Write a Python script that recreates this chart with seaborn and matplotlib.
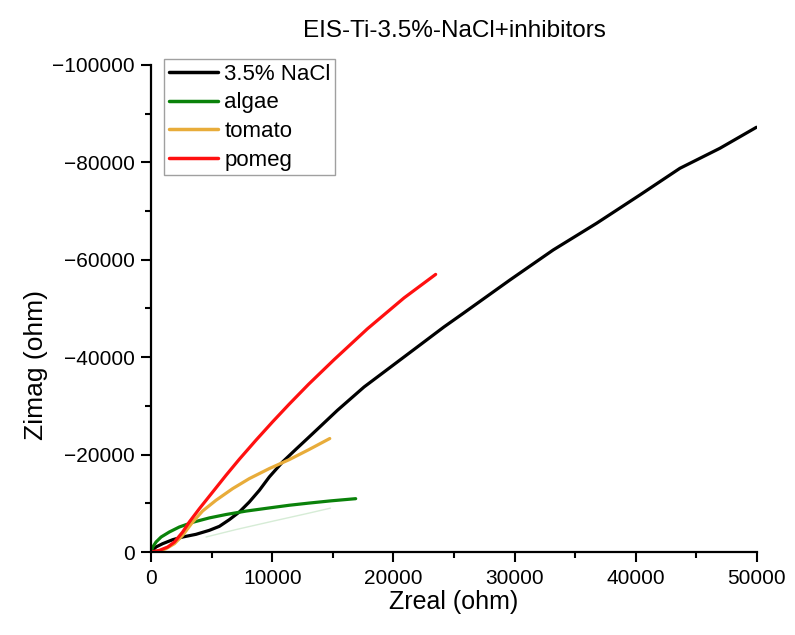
import seaborn as sns
import pandas as pd
import matplotlib.pyplot as plt
from matplotlib.ticker import MultipleLocator

# Nyquist data (Zreal, Zimag in ohm)
nacl_x = [0, 410, 960, 1790, 2610, 3710, 4810, 5640, 6460, 7290, 8110, 8940, 9760, 10860,
          11960, 12930, 14000, 15380, 17580, 19780, 21980, 24170, 25770, 29620, 33190,
          36770, 40350, 43650, 46950, 49970]
nacl_y = [0, -1030, -1710, -2530, -3080, -3630, -4450, -5270, -6640, -8220, -10270, -12670,
          -15410, -18500, -21100, -23350, -25850, -29090, -33880, -37990, -42100, -46200,
          -49010, -55850, -62010, -67490, -73310, -78780, -82890, -87210]

algae_x = [0, 140, 410, 830, 1510, 2340, 3440, 4810, 6190, 7840, 9760, 11410, 13060,
           14830, 16890]
algae_y = [0, -1030, -2050, -3080, -4110, -5140, -6100, -7000, -7700, -8400, -9050, -9600,
           -10050, -10500, -10950]

algae_faint_x = [4540, 7000, 10000, 13060, 14800]
algae_faint_y = [-3080, -4600, -6300, -8000, -9000]

tomato_x = [0, 690, 1240, 1930, 2610, 3440, 4260, 5360, 6740, 8110, 9760, 11410, 13010, 14750]
tomato_y = [0, -200, -690, -1710, -3430, -6170, -8430, -10620, -13020, -15070, -17130,
            -18970, -21000, -23300]

pomeg_x = [0, 690, 1380, 1930, 2610, 3160, 3990, 5090, 6190, 7290, 8660, 10040, 11410,
           13010, 15110, 17860, 20880, 23490]
pomeg_y = [0, -340, -1030, -2050, -4110, -6170, -8900, -12330, -15760, -19060, -22960,
           -26750, -30380, -34460, -39500, -45830, -52170, -57000]

series = {
    '3.5% NaCl': (nacl_x, nacl_y, 'black'),
    'algae': (algae_x, algae_y, '#0a820a'),
    'tomato': (tomato_x, tomato_y, '#e8ac3a'),
    'pomeg': (pomeg_x, pomeg_y, '#ff1010'),
}

sns.set_style("ticks", {'text.color': 'black', 'axes.labelcolor': 'black',
                        'xtick.color': 'black', 'ytick.color': 'black',
                        'axes.edgecolor': 'black'})
plt.rcParams['font.family'] = ['Liberation Sans', 'DejaVu Sans']

fig = plt.figure(figsize=(7.95, 6.35), dpi=100)
ax = fig.add_axes([0.19, 0.1307, 0.762, 0.767])

sns.lineplot(x=algae_faint_x, y=algae_faint_y, ax=ax, color='#d6ecd6', linewidth=1,
             sort=False, estimator=None, legend=False)
for name, (xs, ys, c) in series.items():
    df = pd.DataFrame({'Zreal': xs, 'Zimag': ys})
    sns.lineplot(data=df, x='Zreal', y='Zimag', ax=ax, color=c, linewidth=2.3, label=name,
                 sort=False, estimator=None)

ax.set_xlim(0, 50000)
ax.set_ylim(0, -100000)
ax.xaxis.set_major_locator(MultipleLocator(10000))
ax.xaxis.set_minor_locator(MultipleLocator(5000))
ax.yaxis.set_major_locator(MultipleLocator(20000))
ax.yaxis.set_minor_locator(MultipleLocator(10000))
ax.tick_params(which='major', direction='out', length=7, width=1.5, labelsize=15, pad=5)
ax.tick_params(which='minor', direction='out', length=4, width=1.5)
for s in ['left', 'bottom']:
    ax.spines[s].set_linewidth(1.6)
sns.despine(ax=ax)

ax.set_xlabel('Zreal (ohm)', fontsize=18, labelpad=2)
ax.set_ylabel('Zimag (ohm)', fontsize=19)
ax.yaxis.set_label_coords(-0.17, 0.384)
ax.set_title('EIS-Ti-3.5%-NaCl+inhibitors', fontsize=17.5, pad=20)

leg = ax.legend(loc='upper left', bbox_to_anchor=(0.022, 1.012), fontsize=16,
                frameon=True, fancybox=False, handlelength=2.2, handletextpad=0.3,
                labelspacing=0.35, borderpad=0.2, borderaxespad=0)
leg.get_frame().set_edgecolor('#888888')
leg.get_frame().set_linewidth(1)
for h in leg.get_lines():
    h.set_linewidth(2.5)

plt.savefig('out.png', dpi=100)
plt.close()
